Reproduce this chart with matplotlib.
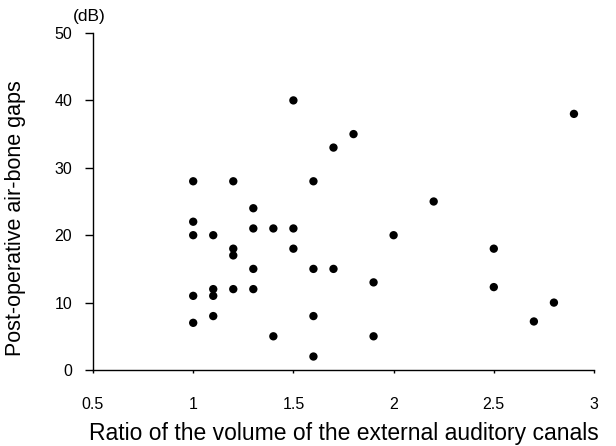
import matplotlib.pyplot as plt

plt.rcParams['font.family'] = ['Liberation Sans', 'DejaVu Sans']

# ratio of ear canal volumes vs post-operative air-bone gap (dB)
ratio = [1.0, 1.0, 1.0, 1.0, 1.0,
         1.1, 1.1, 1.1, 1.1,
         1.2, 1.2, 1.2, 1.2,
         1.3, 1.3, 1.3, 1.3,
         1.4, 1.4,
         1.5, 1.5, 1.5,
         1.6, 1.6, 1.6, 1.6,
         1.7, 1.7,
         1.8,
         1.9, 1.9,
         2.0, 2.2,
         2.5, 2.5,
         2.7, 2.8, 2.9]
gap = [28, 22, 20, 11, 7,
       20, 12, 11, 8,
       28, 18, 17, 12,
       24, 21, 15, 12,
       21, 5,
       40, 21, 18,
       28, 15, 8, 2,
       33, 15,
       35,
       13, 5,
       20, 25,
       18, 12.3,
       7.2, 10, 38]

xticks = [0.5, 1, 1.5, 2, 2.5, 3]
xticklabels = ['0.5', '1', '1.5', '2', '2.5', '3']
yticks = [0, 10, 20, 30, 40, 50]

fig = plt.figure(figsize=(6.16, 4.46), dpi=100)
ax = fig.add_axes([93 / 616, 76 / 446, 501 / 616, 337 / 446])

ax.scatter(ratio, gap, s=36, color='black', edgecolors='none', clip_on=False)

ax.set_xlim(0.5, 3)
ax.set_ylim(0, 50)
ax.set_xticks(xticks)
ax.set_xticklabels(xticklabels)
ax.set_yticks(yticks)

for side in ['top', 'right']:
    ax.spines[side].set_visible(False)
for side in ['left', 'bottom']:
    ax.spines[side].set_linewidth(1.0)

ax.tick_params(axis='x', direction='out', length=2.5, width=1, pad=17, labelsize=11.5)
ax.tick_params(axis='y', direction='out', length=6, width=1, pad=9, labelsize=11.5)

ax.set_xlabel('Ratio of the volume of the external auditory canals', fontsize=16.5, va='center')
ax.xaxis.set_label_coords(0.5, -0.187)
ax.set_ylabel('Post-operative air-bone gaps', fontsize=15.5, va='center')
ax.yaxis.set_label_coords(-0.154, 0.45)

fig.text(89 / 616, 1 - 17 / 446, '(dB)', ha='center', va='center', fontsize=12.5)

fig.savefig('out.png', dpi=100)
